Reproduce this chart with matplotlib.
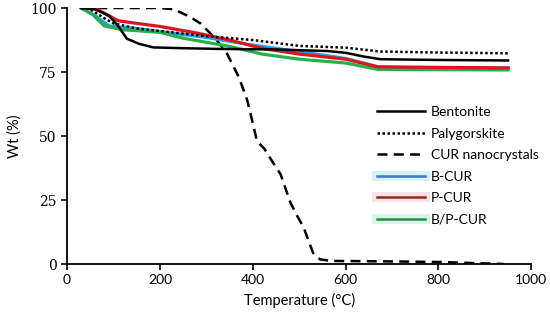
import matplotlib
matplotlib.use("Agg")
import matplotlib.pyplot as plt
from matplotlib.legend_handler import HandlerTuple
from matplotlib.lines import Line2D

# Bentonite
bent_t = [30, 60, 90, 108, 129, 155, 186, 250, 330, 450, 560, 600, 640, 675, 800, 950]
bent_w = [100, 99.5, 97, 93.4, 88, 86, 84.6, 84.3, 84, 83.8, 83.2, 82.5, 81, 80, 79.7, 79.5]
# Palygorskite
paly_t = [30, 50, 80, 100, 150, 200, 300, 400, 500, 600, 675, 800, 950]
paly_w = [100, 99.5, 96, 94, 92, 91, 89, 87.5, 85.2, 84.5, 83, 82.6, 82.3]
# CUR nanocrystals
cur_t = [30, 100, 200, 230, 243, 265, 287, 320, 345, 370, 388, 400, 409, 425, 437, 460, 481, 495, 509, 530, 545, 570, 700, 800, 940]
cur_w = [100, 100, 100, 99.5, 98.4, 96.5, 94, 88, 82, 73, 64, 55, 48, 45, 41.5, 35, 24, 19, 14.5, 4.3, 1.8, 1.2, 1.0, 0.8, 0]
# B-CUR
bcur_t = [30, 60, 90, 150, 200, 300, 400, 500, 600, 670, 800, 950]
bcur_w = [100, 97, 93, 92, 90.8, 88.5, 85.5, 83, 80.3, 77, 76.6, 76.5]
# P-CUR
pcur_t = [50, 65, 80, 110, 150, 200, 280, 350, 420, 500, 600, 670, 800, 950]
pcur_w = [100, 99.5, 98, 95, 94, 92.8, 90.2, 87.5, 84.2, 82, 80, 77, 76.8, 76.6]
# B/P-CUR
bpcur_t = [30, 55, 80, 120, 200, 250, 350, 420, 500, 600, 670, 800, 950]
bpcur_w = [100, 97.5, 93, 91.5, 90.5, 88.2, 85, 82, 80, 78.5, 76, 75.9, 75.8]

x_ticks = [0, 200, 400, 600, 800, 1000]
y_ticks = [0, 25, 50, 75, 100]

fig = plt.figure(figsize=(5.5, 3.2), dpi=100)
ax = fig.add_axes([0.122, 0.175, 0.844, 0.8])

ax.plot(cur_t, cur_w, color="black", lw=1.8, ls=(0, (4, 2.5)), label="CUR nanocrystals")
ax.plot(bcur_t, bcur_w, color="#20a0e8", lw=2.3, label="B-CUR")
ax.plot(bpcur_t, bpcur_w, color="#22b24c", lw=2.3, label="B/P-CUR")
ax.plot(pcur_t, pcur_w, color="#e0141e", lw=2.3, label="P-CUR")
ax.plot(bent_t, bent_w, color="black", lw=1.8, label="Bentonite")
ax.plot(paly_t, paly_w, color="black", lw=1.8, ls=(0, (1, 1)), label="Palygorskite")

ax.set_xlim(0, 1000)
ax.set_ylim(0, 100)
ax.set_xticks(x_ticks)
ax.set_yticks(y_ticks)
for s in ["top", "right"]:
    ax.spines[s].set_visible(False)
for s in ["left", "bottom"]:
    ax.spines[s].set_linewidth(1.3)
ax.tick_params(direction="out", length=4, width=1.2, colors="black")
ax.tick_params(axis="x", labelsize=10)
ax.tick_params(axis="y", labelsize=10)
for lab in ax.get_yticklabels():
    lab.set_fontfamily("DejaVu Serif")
for lab in ax.get_xticklabels():
    lab.set_fontfamily("Lato")

ax.set_xlabel("Temperature (°C)", fontsize=10.5, family="Lato", labelpad=5)
ax.set_ylabel("Wt (%)", fontsize=10.5, family="Lato", labelpad=6)

# legend with the same order as the reference
def h(color, ls="-", bg=None):
    main = Line2D([], [], color=color, lw=1.8, ls=ls)
    if bg is None:
        return main
    return (Line2D([], [], color=bg, lw=7), main)

handles = [h("black"), h("black", (0, (1, 1))), h("black", (0, (4, 2.5))),
           h("#3a78d0", bg="#d4f0f8"), h("#8b2a14", bg="#fbe0ea"), h("#2e8b3a", bg="#d4f4f0")]
labels = ["Bentonite", "Palygorskite", "CUR nanocrystals", "B-CUR", "P-CUR", "B/P-CUR"]
ax.legend(handles, labels, handler_map={tuple: HandlerTuple(ndivide=1, pad=0)},
          loc="upper left", bbox_to_anchor=(0.64, 0.665), frameon=False,
          prop={"family": "Lato", "size": 10}, handlelength=3.5, handletextpad=0.4,
          labelspacing=0.68)

fig.savefig("out.png", dpi=100)
